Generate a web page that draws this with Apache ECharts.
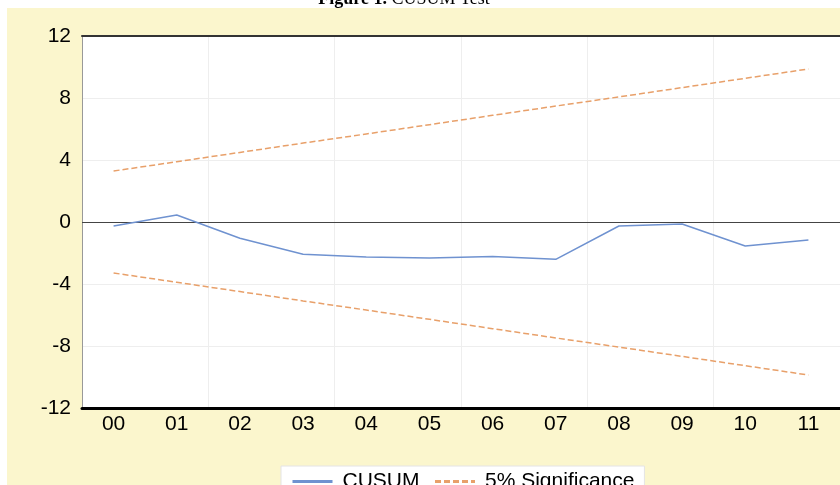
<!DOCTYPE html>
<html>
<head>
<meta charset="utf-8">
<script src="https://cdn.jsdelivr.net/npm/echarts@6/dist/echarts.min.js"></script>
<style>
html,body{margin:0;padding:0;background:#fff;}
#chart{width:840px;height:485px;}
</style>
</head>
<body>
<div id="chart"></div>
<script>
const categories = ['00','01','02','03','04','05','06','07','08','09','10','11'];
const cusum = [-0.26, 0.45, -1.05, -2.08, -2.26, -2.32, -2.23, -2.41, -0.26, -0.13, -1.55, -1.16];
const upper5 = [3.29, 3.89, 4.49, 5.09, 5.68, 6.28, 6.88, 7.48, 8.07, 8.67, 9.27, 9.87];
const lower5 = [-3.29, -3.89, -4.49, -5.09, -5.68, -6.28, -6.88, -7.48, -8.07, -8.67, -9.27, -9.87];
const yTicks = {min: -12, max: 12, interval: 4};

const chart = echarts.init(document.getElementById('chart'), null, {renderer: 'canvas'});
const labelFont = 'Liberation Sans, Arial, sans-serif';
const option = {
  backgroundColor: '#ffffff',
  animation: false,
  graphic: [
    {type: 'rect', z: -10, silent: true, shape: {x: 7, y: 8, width: 833, height: 477}, style: {fill: '#FBF6CD'}},
    {type: 'text', z: 10, silent: true, style: {
      x: 404, y: 9, align: 'center', verticalAlign: 'bottom',
      text: '{b|Figure 1.}{n| CUSUM Test}',
      rich: {
        b: {fontFamily: 'Liberation Serif, Times New Roman, serif', fontWeight: 'bold', fontSize: 18, fill: '#000', lineHeight: 20},
        n: {fontFamily: 'Liberation Serif, Times New Roman, serif', fontSize: 18, fill: '#000', lineHeight: 20}
      }
    }}
  ],
  grid: {left: 82, top: 36, right: -2, bottom: 77, show: true, backgroundColor: '#ffffff', borderWidth: 0, containLabel: false},
  legend: {
    data: ['CUSUM', '5% Significance'],
    left: 281, top: 466,
    backgroundColor: '#ffffff', borderColor: '#e4e4e4', borderWidth: 1,
    padding: [5, 10, 5, 10],
    itemWidth: 40, itemHeight: 10, itemGap: 14,
    textStyle: {fontFamily: labelFont, fontSize: 21, color: '#000', padding: [0, 0, 0, 5]},
    itemStyle: {opacity: 0},
    lineStyle: {width: 3}
  },
  xAxis: [
    {
      type: 'category', data: categories, boundaryGap: true, position: 'bottom',
      axisLine: {show: true, onZero: false, lineStyle: {color: '#000', width: 3}},
      axisTick: {show: false},
      axisLabel: {fontFamily: labelFont, fontSize: 21, color: '#000', margin: 6},
      splitLine: {show: true, interval: function (index) { return index % 2 === 0; }, lineStyle: {color: '#eeeeee', width: 1}}
    },
    {
      type: 'category', data: categories, position: 'top',
      axisLine: {show: true, onZero: false, lineStyle: {color: '#333', width: 2}},
      axisTick: {show: false}, axisLabel: {show: false}, splitLine: {show: false}
    }
  ],
  yAxis: {
    type: 'value', min: yTicks.min, max: yTicks.max, interval: yTicks.interval,
    axisLine: {show: true, onZero: false, lineStyle: {color: '#999', width: 1}},
    axisTick: {show: false},
    axisLabel: {fontFamily: labelFont, fontSize: 21, color: '#000', margin: 11, padding: [0, 0, 11, 0]},
    splitLine: {show: true, lineStyle: {color: '#eeeeee', width: 1}}
  },
  series: [
    {
      name: 'CUSUM', type: 'line', data: cusum, symbol: 'none', z: 5,
      lineStyle: {color: '#6F92D0', width: 1.5}, itemStyle: {color: '#6F92D0'},
      markLine: {silent: true, symbol: 'none', label: {show: false},
        lineStyle: {color: '#444', width: 1.2, type: 'solid'}, data: [{yAxis: 0}]}
    },
    {
      name: '5% Significance', type: 'line', data: upper5, symbol: 'none', z: 4,
      lineStyle: {color: '#E8A06A', width: 1.5, type: [6, 3]}, itemStyle: {color: '#E8A06A'}
    },
    {
      name: '5% Significance', type: 'line', data: lower5, symbol: 'none', z: 4,
      lineStyle: {color: '#E8A06A', width: 1.5, type: [6, 3]}, itemStyle: {color: '#E8A06A'}
    }
  ]
};
chart.setOption(option);
</script>
</body>
</html>
